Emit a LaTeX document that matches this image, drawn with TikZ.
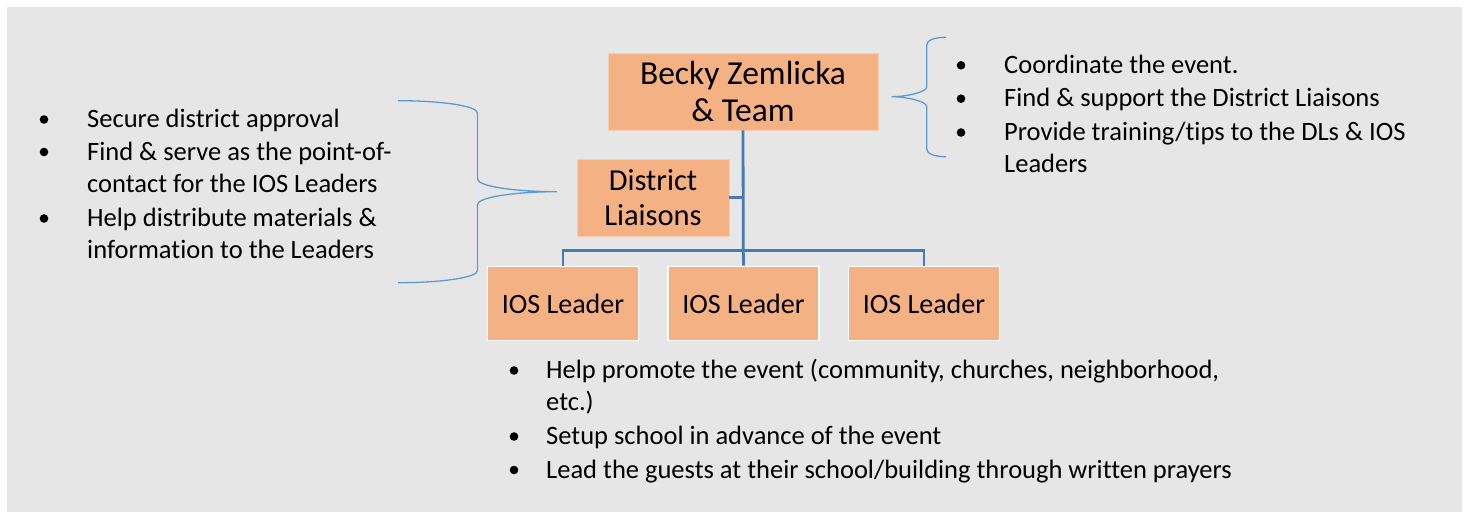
\documentclass[tikz,border=0pt]{standalone}
\usepackage{fontspec}
\setmainfont{Carlito}[Ligatures=NoCommon]
\definecolor{bg}{RGB}{231,230,230}
\definecolor{boxfill}{RGB}{244,177,131}
\definecolor{conn}{RGB}{71,122,178}
\definecolor{brace}{RGB}{91,155,213}
\begin{document}
\begin{tikzpicture}[x=1pt,y=-1pt,
  box/.style={fill=boxfill,draw=white,line width=1.8pt,inner sep=0pt,align=center,font=\fontsize{28}{33}\selectfont},
  bigbox/.style={fill=boxfill,draw={rgb,255:red,248;green,205;blue,175},line width=0.8pt,inner sep=0pt,align=center},
  link/.style={draw=conn,line width=2.8pt},
  bracepath/.style={draw=brace,line width=1.3pt},
  ln/.style={anchor=base west,inner sep=0pt,font=\fontsize{26.5}{32.5}\selectfont},
  bul/.style={circle,fill=black,inner sep=0pt,minimum size=8.6pt}]
\useasboundingbox (0,0) rectangle (1467,512);
\fill[bg] (7,7) rectangle (1461.5,512);

% boxes
\node[bigbox,minimum width=270,minimum height=77,font=\fontsize{33.5}{38.5}\selectfont] (becky) at (743,91.5) {Becky Zemlicka\\[-1pt]\& Team};
\node[bigbox,minimum width=152,minimum height=77,font=\fontsize{30.5}{35.5}\selectfont] (dl) at (653,197.5) {District\\Liaisons};
\node[box,minimum width=151,minimum height=74] (ios1) at (563,303.5) {IOS Leader};
\node[box,minimum width=151,minimum height=74] (ios2) at (743.5,303.5) {IOS Leader};
\node[box,minimum width=151,minimum height=74] (ios3) at (924,303.5) {IOS Leader};

% connectors
\coordinate (bar) at (743.3,250.3);
\draw[link] (becky.south) -- (bar);
\draw[link] (dl.east |- 0,197.3) -- (743.3,197.3);
\draw[link] (bar) -- (ios2.north);
\draw[link] (ios1.north) -- (ios1.north |- bar) -- (ios3.north |- bar) -- (ios3.north);

% left brace
\coordinate (lbtop) at (398,100.7);
\coordinate (lbtip) at (557,191.7);
\coordinate (lbbot) at (398,282.7);
\draw[bracepath] (lbtop) .. controls (442,100.7) and (477.5,106) .. (477.5,113)
  -- (477.5,179) .. controls (477.5,186) and (513,191.7) .. (lbtip)
  .. controls (513,191.7) and (477.5,197.5) .. (477.5,204.5)
  -- (477.5,270.5) .. controls (477.5,277.5) and (442,282.7) .. (lbbot);

% right brace
\coordinate (rbtop) at (946,37.3);
\coordinate (rbtip) at (891.7,96.7);
\coordinate (rbbot) at (946,156.7);
\draw[bracepath] (rbtop) .. controls (935,37.3) and (926.7,40) .. (926.7,45)
  -- (926.7,87) .. controls (926.7,92.5) and (905,96.7) .. (rbtip)
  .. controls (905,96.7) and (926.7,101) .. (926.7,106.5)
  -- (926.7,149) .. controls (926.7,154) and (935,156.7) .. (rbbot);

% left list
\node[bul] (lb1) at (44,119.5) {};
\node[ln] (lt1) at (87,127.5) {Secure district approval};
\node[bul] (lb2) at (44,152) {};
\node[ln] (lt2) at (87,160) {Find \& serve as the point-of-};
\node[ln] (lt3) at (87,192) {contact for the IOS Leaders};
\node[bul] (lb3) at (44,218.5) {};
\node[ln] (lt4) at (87,226.5) {Help distribute materials \&};
\node[ln] (lt5) at (87,258) {information to the Leaders};

% right list
\node[bul] (rb1) at (961,65.3) {};
\node[ln] (rt1) at (1004,73.3) {Coordinate the event.};
\node[bul] (rb2) at (961,98.7) {};
\node[ln] (rt2) at (1004,106.7) {Find \& support the District Liaisons};
\node[bul] (rb3) at (961,132.5) {};
\node[ln] (rt3) at (1004,140.5) {Provide training/tips to the DLs \& IOS};
\node[ln] (rt4) at (1004,172.7) {Leaders};

% bottom list
\node[bul] (bb1) at (514,370.5) {};
\node[ln] (bt1) at (546,378.5) {Help promote the event (community, churches, neighborhood,};
\node[ln] (bt2) at (546,410.5) {etc.)};
\node[bul] (bb2) at (514,436.5) {};
\node[ln] (bt3) at (546,444.5) {Setup school in advance of the event};
\node[bul] (bb3) at (514,470) {};
\node[ln] (bt4) at (546,478) {Lead the guests at their school/building through written prayers};
\end{tikzpicture}
\end{document}
